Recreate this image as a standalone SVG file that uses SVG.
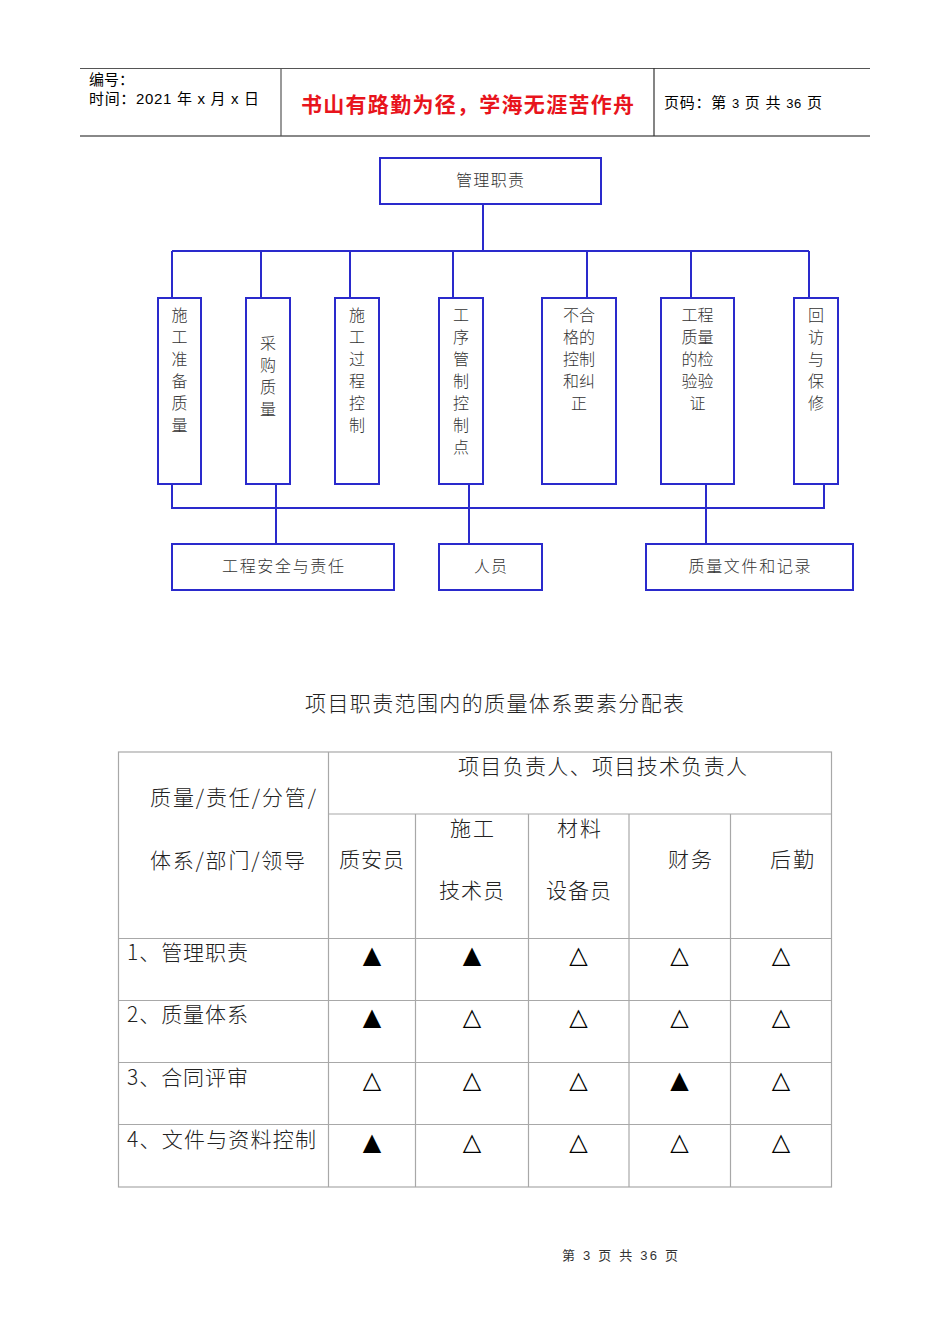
<svg xmlns="http://www.w3.org/2000/svg" width="950" height="1344" viewBox="0 0 950 1344">
<style>
.bg{fill:#ffffff}
.hd{font-family:"Liberation Sans","Noto Sans CJK SC",sans-serif;fill:#000;font-size:15px}
.red{font-family:"Noto Sans CJK SC",sans-serif;fill:#e8141c;font-size:21px;font-weight:bold}
.box{fill:#ffffff;stroke:#2a2acc;stroke-width:2}
.con{fill:none;stroke:#2a2acc;stroke-width:2}
.nt{font-family:"Noto Sans CJK SC",sans-serif;fill:#333;font-size:16px;text-anchor:middle;font-weight:300}
.tt{font-family:"Noto Sans CJK SC",sans-serif;fill:#222;font-size:21px;font-weight:300}
.tc{text-anchor:middle}
.grid{fill:none;stroke:#a8a8a8;stroke-width:1.2}
.tri{font-family:"DejaVu Sans",sans-serif;font-size:24px;text-anchor:middle;fill:#000}
.ft{font-family:"Liberation Sans","Noto Sans CJK SC",sans-serif;font-size:13px;fill:#333}
</style>
<rect class="bg" x="0" y="0" width="950" height="1344"/>

<g id="header">
  <line x1="80" y1="68.5" x2="870" y2="68.5" stroke="#555" stroke-width="1"/>
  <line x1="80" y1="136" x2="870" y2="136" stroke="#888" stroke-width="2"/>
  <line x1="281" y1="68" x2="281" y2="136" stroke="#555" stroke-width="1.2"/>
  <line x1="654" y1="68" x2="654" y2="136" stroke="#333" stroke-width="1.2"/>
  <text class="hd" x="89" y="85">编号：</text>
  <text class="hd" x="89" y="104" textLength="170">时间：2021 年 x 月 x 日</text>
  <text class="red" x="301" y="112" textLength="333">书山有路勤为径，学海无涯苦作舟</text>
  <text class="hd" x="664" y="108" textLength="158">页码：第 <tspan font-size="13">3</tspan> 页  共 <tspan font-size="13">36</tspan> 页</text>
</g>

<g id="connectors">
  <path class="con" d="M483,204 V251 M172,251 H809 M172,251 V298 M261,251 V298 M350,251 V298 M453,251 V298 M587,251 V298 M691,251 V298 M809,251 V298"/>
  <path class="con" d="M172,484 V508 H824 V484 M276,484 V544 M469,484 V544 M706,484 V544"/>
</g>

<g id="n-top">
  <rect class="box" x="380" y="158" width="221" height="46"/>
  <text class="nt" x="490" y="186" textLength="68">管理职责</text>
</g>

<g id="n1">
  <rect class="box" x="158" y="298" width="43" height="186"/>
  <text class="nt" x="179.5" y="321"><tspan x="179.5">施</tspan><tspan x="179.5" dy="22">工</tspan><tspan x="179.5" dy="22">准</tspan><tspan x="179.5" dy="22">备</tspan><tspan x="179.5" dy="22">质</tspan><tspan x="179.5" dy="22">量</tspan></text>
</g>
<g id="n2">
  <rect class="box" x="246" y="298" width="44" height="186"/>
  <text class="nt" x="268" y="349"><tspan x="268">采</tspan><tspan x="268" dy="22">购</tspan><tspan x="268" dy="22">质</tspan><tspan x="268" dy="22">量</tspan></text>
</g>
<g id="n3">
  <rect class="box" x="335" y="298" width="44" height="186"/>
  <text class="nt" x="357" y="321"><tspan x="357">施</tspan><tspan x="357" dy="22">工</tspan><tspan x="357" dy="22">过</tspan><tspan x="357" dy="22">程</tspan><tspan x="357" dy="22">控</tspan><tspan x="357" dy="22">制</tspan></text>
</g>
<g id="n4">
  <rect class="box" x="439" y="298" width="44" height="186"/>
  <text class="nt" x="461" y="321"><tspan x="461">工</tspan><tspan x="461" dy="22">序</tspan><tspan x="461" dy="22">管</tspan><tspan x="461" dy="22">制</tspan><tspan x="461" dy="22">控</tspan><tspan x="461" dy="22">制</tspan><tspan x="461" dy="22">点</tspan></text>
</g>
<g id="n5">
  <rect class="box" x="542" y="298" width="74" height="186"/>
  <text class="nt" x="579" y="321"><tspan x="579">不合</tspan><tspan x="579" dy="22">格的</tspan><tspan x="579" dy="22">控制</tspan><tspan x="579" dy="22">和纠</tspan><tspan x="579" dy="22">正</tspan></text>
</g>
<g id="n6">
  <rect class="box" x="661" y="298" width="73" height="186"/>
  <text class="nt" x="697.5" y="321"><tspan x="697.5">工程</tspan><tspan x="697.5" dy="22">质量</tspan><tspan x="697.5" dy="22">的检</tspan><tspan x="697.5" dy="22">验验</tspan><tspan x="697.5" dy="22">证</tspan></text>
</g>
<g id="n7">
  <rect class="box" x="794" y="298" width="44" height="186"/>
  <text class="nt" x="816" y="321"><tspan x="816">回</tspan><tspan x="816" dy="22">访</tspan><tspan x="816" dy="22">与</tspan><tspan x="816" dy="22">保</tspan><tspan x="816" dy="22">修</tspan></text>
</g>

<g id="b1">
  <rect class="box" x="172" y="544" width="222" height="46"/>
  <text class="nt" x="283" y="572" textLength="122">工程安全与责任</text>
</g>
<g id="b2">
  <rect class="box" x="439" y="544" width="103" height="46"/>
  <text class="nt" x="490.5" y="572" textLength="33">人员</text>
</g>
<g id="b3">
  <rect class="box" x="646" y="544" width="207" height="46"/>
  <text class="nt" x="749.5" y="572" textLength="122">质量文件和记录</text>
</g>

<g id="title">
  <text class="tt" x="305" y="711" font-size="20" textLength="379">项目职责范围内的质量体系要素分配表</text>
</g>

<g id="table">
  <rect class="grid" x="118.5" y="752" width="713" height="435"/>
  <line class="grid" x1="328.5" y1="752" x2="328.5" y2="1187"/>
  <line class="grid" x1="328.5" y1="814" x2="831.5" y2="814"/>
  <line class="grid" x1="415.5" y1="814" x2="415.5" y2="1187"/>
  <line class="grid" x1="528.5" y1="814" x2="528.5" y2="1187"/>
  <line class="grid" x1="629" y1="814" x2="629" y2="1187"/>
  <line class="grid" x1="730.5" y1="814" x2="730.5" y2="1187"/>
  <line class="grid" x1="118.5" y1="938.5" x2="831.5" y2="938.5"/>
  <line class="grid" x1="118.5" y1="1000.5" x2="831.5" y2="1000.5"/>
  <line class="grid" x1="118.5" y1="1062.5" x2="831.5" y2="1062.5"/>
  <line class="grid" x1="118.5" y1="1124.5" x2="831.5" y2="1124.5"/>

  <text class="tt" x="458" y="774" textLength="289">项目负责人、项目技术负责人</text>
  <text class="tt" x="150" y="805" textLength="166">质量/责任/分管/</text>
  <text class="tt" x="150" y="868" textLength="155">体系/部门/领导</text>
  <text class="tt" x="339" y="867" textLength="65">质安员</text>
  <text class="tt" x="450" y="836" textLength="44">施工</text>
  <text class="tt" x="439" y="898" textLength="65">技术员</text>
  <text class="tt" x="557" y="836" textLength="44">材料</text>
  <text class="tt" x="546" y="898" textLength="65">设备员</text>
  <text class="tt" x="668" y="867" textLength="44">财务</text>
  <text class="tt" x="770" y="867" textLength="44">后勤</text>

  <text class="tt" x="127" y="960" textLength="121">1、管理职责</text>
  <text class="tt" x="127" y="1022" textLength="121">2、质量体系</text>
  <text class="tt" x="127" y="1085" textLength="121">3、合同评审</text>
  <text class="tt" x="127" y="1147" textLength="189">4、文件与资料控制</text>

  <text class="tri" x="372" y="963">▲</text><text class="tri" x="472" y="963">▲</text><text class="tri" x="578.5" y="963">△</text><text class="tri" x="679.5" y="963">△</text><text class="tri" x="781" y="963">△</text>
  <text class="tri" x="372" y="1025">▲</text><text class="tri" x="472" y="1025">△</text><text class="tri" x="578.5" y="1025">△</text><text class="tri" x="679.5" y="1025">△</text><text class="tri" x="781" y="1025">△</text>
  <text class="tri" x="372" y="1088">△</text><text class="tri" x="472" y="1088">△</text><text class="tri" x="578.5" y="1088">△</text><text class="tri" x="679.5" y="1088">▲</text><text class="tri" x="781" y="1088">△</text>
  <text class="tri" x="372" y="1150">▲</text><text class="tri" x="472" y="1150">△</text><text class="tri" x="578.5" y="1150">△</text><text class="tri" x="679.5" y="1150">△</text><text class="tri" x="781" y="1150">△</text>
</g>

<g id="footer">
  <text class="ft" x="562" y="1260" textLength="116">第 3 页 共 36 页</text>
</g>
</svg>
